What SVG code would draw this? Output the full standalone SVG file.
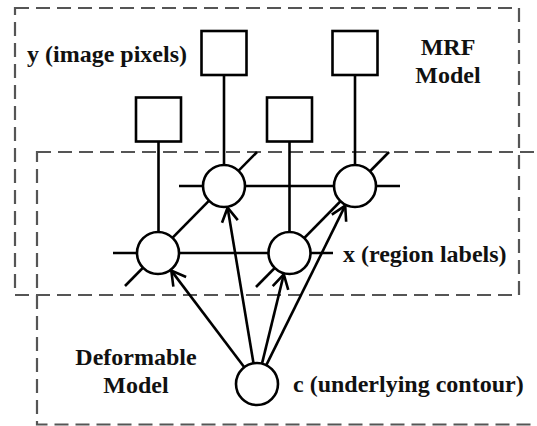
<svg xmlns="http://www.w3.org/2000/svg" width="537" height="426" viewBox="0 0 537 426">
<style>
.box{fill:none;stroke:#555;stroke-width:2.2;stroke-dasharray:14 7}
.ln{fill:none;stroke:#000;stroke-width:2.6}
.nd{fill:#fff;stroke:#000;stroke-width:2.6}
.t{font-family:"Liberation Serif","Times New Roman",serif;font-weight:bold;font-size:24px;fill:#111}
.arr{fill:none;stroke:#000;stroke-width:2.6;marker-end:url(#ah)}
</style>
<defs>
<marker id="ah" markerUnits="userSpaceOnUse" markerWidth="18" markerHeight="18" refX="14" refY="8" orient="auto" overflow="visible">
<path d="M0,0 L14,8 L0,16" fill="none" stroke="#000" stroke-width="2.6"/>
</marker>
</defs>
<rect width="537" height="426" fill="#fff"/>
<g id="mrf-box"><rect class="box" x="15" y="8" width="504" height="287"/></g>
<g id="deformable-box"><rect class="box" x="37" y="152" width="520" height="272.5"/></g>
<g id="connectors">
<line class="ln" x1="224" y1="75" x2="224" y2="165"/>
<line class="ln" x1="158.5" y1="142" x2="158.5" y2="232"/>
<line class="ln" x1="289.5" y1="142" x2="289.5" y2="232"/>
<line class="ln" x1="355" y1="75" x2="355" y2="165"/>
<line class="ln" x1="179" y1="186" x2="400" y2="186"/>
<line class="ln" x1="113" y1="253" x2="333" y2="253"/>
<line class="ln" x1="125" y1="286" x2="257" y2="152"/>
<line class="ln" x1="256" y1="287" x2="389" y2="152"/>
<line class="arr" x1="244.3" y1="367.2" x2="171.3" y2="270.6"/>
<line class="arr" x1="253.5" y1="363.3" x2="227.6" y2="207.7"/>
<line class="arr" x1="262" y1="363.6" x2="283.8" y2="274.4"/>
<line class="arr" x1="266.3" y1="365.2" x2="345.2" y2="205.7"/>
</g>
<g id="y1"><rect class="nd" x="201.5" y="31" width="45" height="44"/></g>
<g id="y2"><rect class="nd" x="136" y="97.5" width="45" height="44"/></g>
<g id="y3"><rect class="nd" x="267" y="97.5" width="45" height="44"/></g>
<g id="y4"><rect class="nd" x="332.5" y="31" width="45" height="44"/></g>
<g id="x1"><circle class="nd" cx="224" cy="186" r="21"/></g>
<g id="x2"><circle class="nd" cx="355" cy="186" r="21"/></g>
<g id="x3"><circle class="nd" cx="158" cy="253" r="21"/></g>
<g id="x4"><circle class="nd" cx="289.5" cy="253" r="21"/></g>
<g id="c"><circle class="nd" cx="257" cy="384" r="21"/></g>
<g id="labels">
<text class="t" x="27" y="62">y (image pixels)</text>
<text class="t" x="448" y="55" text-anchor="middle">MRF</text>
<text class="t" x="448" y="83" text-anchor="middle">Model</text>
<text class="t" x="343" y="262">x (region labels)</text>
<text class="t" x="136" y="365" text-anchor="middle">Deformable</text>
<text class="t" x="136" y="393" text-anchor="middle">Model</text>
<text class="t" x="293" y="392">c (underlying contour)</text>
</g>
</svg>
